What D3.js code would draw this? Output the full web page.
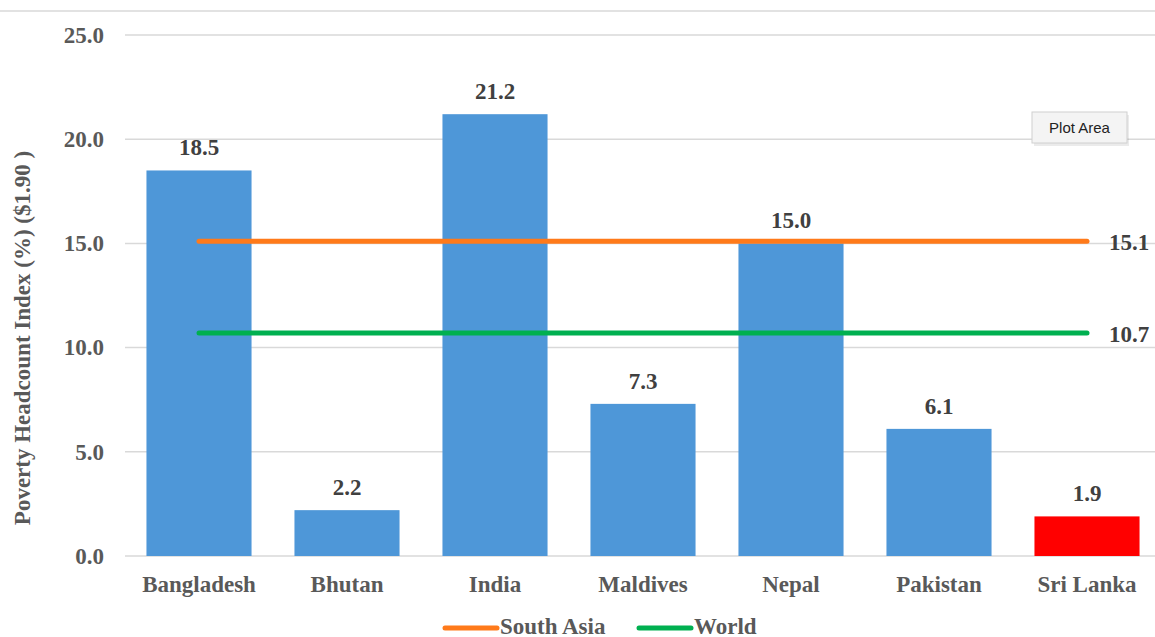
<!DOCTYPE html>
<html>
<head>
<meta charset="utf-8">
<script src="https://cdn.jsdelivr.net/npm/d3@7"></script>
<style>
  body { margin: 0; background: #fff; }
  svg text { font-family: "Liberation Serif", "Times New Roman", serif; font-weight: bold; }
</style>
</head>
<body>
<div id="chart"></div>
<script>
// data
var countries = ["Bangladesh", "Bhutan", "India", "Maldives", "Nepal", "Pakistan", "Sri Lanka"];
var headcount = [18.5, 2.2, 21.2, 7.3, 15.0, 6.1, 1.9];
var southAsia = [15.1, 15.1, 15.1, 15.1, 15.1, 15.1, 15.1];
var world = [10.7, 10.7, 10.7, 10.7, 10.7, 10.7, 10.7];
var yTicks = [0, 5, 10, 15, 20, 25];

var W = 1155, H = 637;
var margin = { top: 35, right: -6, bottom: 81, left: 125 },
    width = W - margin.left - margin.right,
    height = H - margin.top - margin.bottom;

var svg = d3.select("#chart")
    .append("svg")
    .attr("width", W)
    .attr("height", H);

// thin border line at the top
svg.append("line")
    .attr("x1", 0).attr("x2", W)
    .attr("y1", 11).attr("y2", 11)
    .style("stroke", "#d9d9d9").style("stroke-width", 1.5);

var g = svg.append("g")
    .attr("transform", "translate(" + margin.left + "," + margin.top + ")");

var x = d3.scaleBand()
    .domain(countries)
    .range([0, width])
    .paddingInner(0.29)
    .paddingOuter(0.145);

var y = d3.scaleLinear()
    .domain([0, 25])
    .range([height, 0]);

// gridlines
g.selectAll(".grid")
    .data(yTicks)
    .enter()
    .append("line")
    .attr("x1", 0).attr("x2", width)
    .attr("y1", function (d) { return y(d); })
    .attr("y2", function (d) { return y(d); })
    .style("stroke", "#d9d9d9").style("stroke-width", 1.5);

// y axis labels
var yAxis = g.append("g")
    .call(d3.axisLeft(y).tickValues(yTicks).tickFormat(d3.format(".1f")).tickSize(0).tickPadding(21));
yAxis.select(".domain").remove();
yAxis.selectAll("text")
    .style("font-size", "23px")
    .style("font-family", "Liberation Serif, serif")
    .style("font-weight", "bold")
    .attr("fill", "#595959");

// x axis labels
var xAxis = g.append("g")
    .attr("transform", "translate(0," + height + ")")
    .call(d3.axisBottom(x).tickSize(0).tickPadding(20));
xAxis.select(".domain").remove();
xAxis.selectAll("text")
    .style("font-size", "23px")
    .style("font-family", "Liberation Serif, serif")
    .style("font-weight", "bold")
    .attr("fill", "#595959");

// bars
g.selectAll(".bar")
    .data(countries)
    .enter()
    .append("rect")
    .attr("x", function (d) { return x(d); })
    .attr("y", function (d, i) { return y(headcount[i]); })
    .attr("width", x.bandwidth())
    .attr("height", function (d, i) { return height - y(headcount[i]); })
    .style("fill", function (d) { return d == "Sri Lanka" ? "#ff0000" : "#4e97d8"; });

// bar value labels
g.selectAll(".barlabel")
    .data(countries)
    .enter()
    .append("text")
    .attr("x", function (d) { return x(d) + x.bandwidth() / 2; })
    .attr("y", function (d, i) { return y(headcount[i]) - 15; })
    .attr("text-anchor", "middle")
    .style("font-size", "23px")
    .attr("fill", "#404040")
    .text(function (d, i) { return headcount[i].toFixed(1); });

// reference lines
var line = d3.line()
    .x(function (d, i) { return x(countries[i]) + x.bandwidth() / 2; })
    .y(function (d) { return y(d); });

var series = [
    { name: "South Asia", values: southAsia, color: "#ff7a1a" },
    { name: "World", values: world, color: "#00b050" }
];

series.forEach(function (s) {
    g.append("path")
        .datum(s.values)
        .attr("d", line)
        .style("fill", "none")
        .style("stroke", s.color)
        .style("stroke-width", 5)
        .style("stroke-linecap", "round");

    var last = s.values.length - 1;
    g.append("text")
        .attr("x", x(countries[last]) + x.bandwidth() / 2 + 22)
        .attr("y", y(s.values[last]) + 9)
        .style("font-size", "23px")
        .attr("fill", "#404040")
        .text(s.values[last].toFixed(1));
});

// y axis title
svg.append("text")
    .attr("transform", "translate(30,338) rotate(-90)")
    .attr("text-anchor", "middle")
    .style("font-size", "23px")
    .attr("fill", "#595959")
    .text("Poverty Headcount Index (%) ($1.90 )");

// legend
var legendPos = [443, 637];
var legend = svg.selectAll(".legend")
    .data(series)
    .enter()
    .append("g")
    .attr("transform", function (d, i) { return "translate(" + legendPos[i] + ",628)"; });

legend.append("line")
    .attr("x1", 2).attr("x2", 54)
    .attr("y1", 0).attr("y2", 0)
    .style("stroke", function (d) { return d.color; })
    .style("stroke-width", 5)
    .style("stroke-linecap", "round");

legend.append("text")
    .attr("x", 57)
    .attr("y", 6)
    .style("font-size", "23px")
    .attr("fill", "#595959")
    .text(function (d) { return d.name; });

// "Plot Area" tooltip
var tip = svg.append("g").attr("transform", "translate(1032,112)");
tip.append("rect")
    .attr("x", 2).attr("y", 3)
    .attr("width", 95).attr("height", 31)
    .style("fill", "#000").style("opacity", 0.08);
tip.append("rect")
    .attr("width", 95).attr("height", 31)
    .style("fill", "#f4f4f4")
    .style("stroke", "#d0d0d0");
tip.append("text")
    .attr("x", 47.5).attr("y", 21)
    .attr("text-anchor", "middle")
    .style("font-family", "Liberation Sans, Arial, sans-serif")
    .style("font-weight", "normal")
    .style("font-size", "15px")
    .attr("fill", "#222")
    .text("Plot Area");
</script>
</body>
</html>
